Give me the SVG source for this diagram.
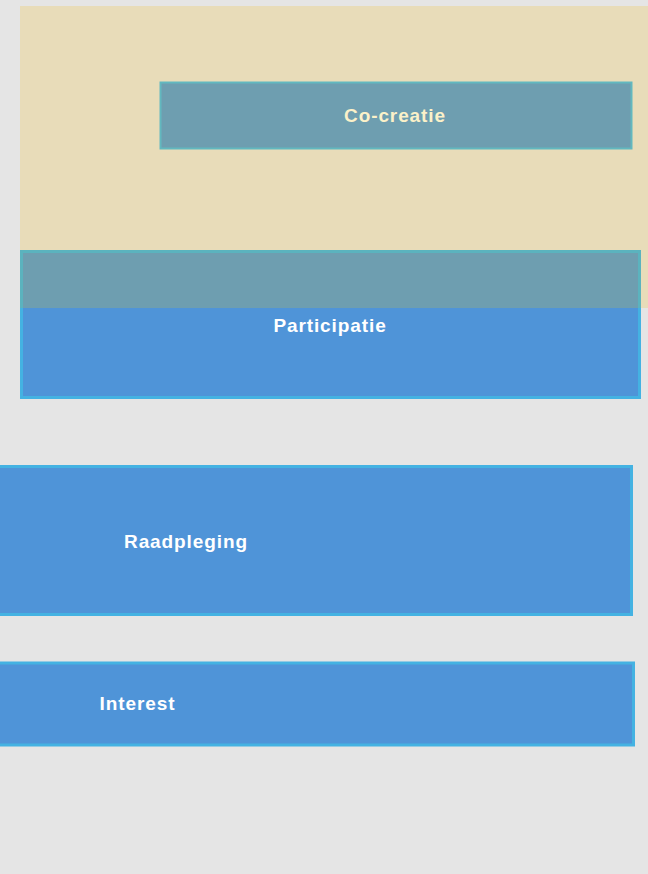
<svg xmlns="http://www.w3.org/2000/svg" width="648" height="874" viewBox="0 0 648 874">
<style>
.lbl{font-family:"Liberation Sans",Arial,sans-serif;font-weight:bold;font-size:19px;letter-spacing:0.9px;text-anchor:middle;dominant-baseline:central;fill:#ffffff}
.blue{fill:#4f94d8;stroke:#44b2e2;stroke-width:3}
</style>
<rect width="648" height="874" fill="#e5e5e5"/>
<g id="cocreatie-zone">
<rect x="20" y="6" width="628" height="302" fill="#e8dcb9"/>
</g>
<g id="participatie">
<rect class="blue" x="21.5" y="251.5" width="618" height="146"/>
<rect x="20" y="250" width="621" height="58" fill="#6e9eb0"/>
<path d="M21.5 308 V251.5 H639.5 V308" fill="none" stroke="#5bb3be" stroke-width="3"/>
<text class="lbl" x="330" y="325">Participatie</text>
</g>
<g id="cocreatie">
<rect x="160.5" y="82.5" width="471" height="66" fill="#6e9eb0" stroke="#62b8bf" stroke-width="2"/>
<text class="lbl" x="395" y="115" style="fill:#fbf1c9">Co-creatie</text>
</g>
<g id="raadpleging">
<rect class="blue" x="-3" y="466.5" width="634.5" height="148"/>
<text class="lbl" x="186" y="541">Raadpleging</text>
</g>
<g id="interest">
<rect class="blue" x="-3" y="663" width="636.5" height="82"/>
<text class="lbl" x="137.5" y="703">Interest</text>
</g>
<g id="connectors"></g>
</svg>
